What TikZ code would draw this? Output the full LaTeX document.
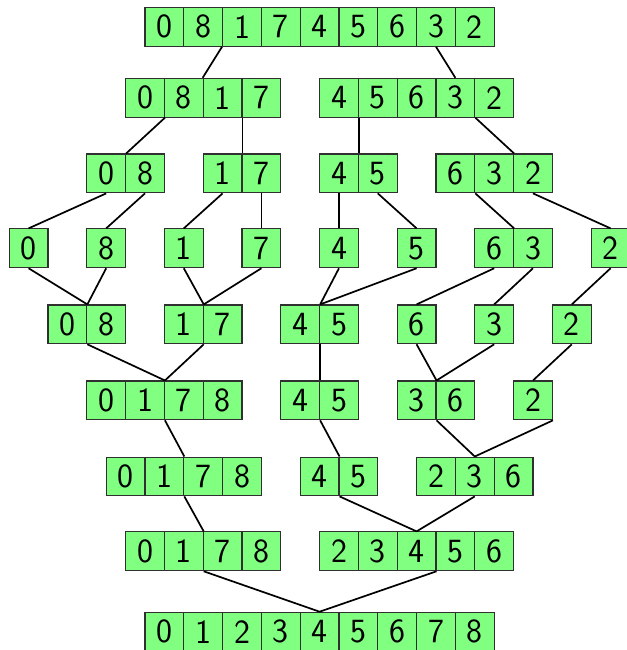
\documentclass[tikz,border=0pt]{standalone}
\usepackage{tikz}
\definecolor{cellfill}{HTML}{80FF80}
\definecolor{celledge}{HTML}{303030}
% one row of cells, first cell centred at (#2,#3)
\newcommand{\cells}[4]{%
  \foreach \v [count=\i] in {#4}
    \node[cell] (#1-\i) at ({#2+\i-1},#3) {\v};
}

\begin{document}
\begin{tikzpicture}[
  cell/.style={draw=celledge, fill=cellfill, line width=0.8pt,
    minimum width=1cm, minimum height=1cm, inner sep=0pt,
    font=\Huge\sffamily},
  link/.style={black, line width=1.25pt}]

\useasboundingbox (-3.737,0) rectangle (12.423,-16.753);

% splitting
\cells{a}{0.5}{-0.69}{0,8,1,7,4,5,6,3,2}
\cells{b1}{0}{-2.52}{0,8,1,7}
\cells{b2}{5}{-2.52}{4,5,6,3,2}
\cells{c1}{-1}{-4.47}{0,8}
\cells{c2}{2}{-4.47}{1,7}
\cells{c3}{5}{-4.47}{4,5}
\cells{c4}{8}{-4.47}{6,3,2}
\cells{d1}{-3}{-6.40}{0}
\cells{d2}{-1}{-6.40}{8}
\cells{d3}{1}{-6.40}{1}
\cells{d4}{3}{-6.40}{7}
\cells{d5}{5}{-6.40}{4}
\cells{d6}{7}{-6.40}{5}
\cells{d7}{9}{-6.40}{6,3}
\cells{d8}{12}{-6.40}{2}

% merging
\cells{e1}{-2}{-8.36}{0,8}
\cells{e2}{1}{-8.36}{1,7}
\cells{e3}{4}{-8.36}{4,5}
\cells{e4}{7}{-8.36}{6}
\cells{e5}{9}{-8.36}{3}
\cells{e6}{11}{-8.36}{2}
\cells{f1}{-1}{-10.32}{0,1,7,8}
\cells{f2}{4}{-10.32}{4,5}
\cells{f3}{7}{-10.32}{3,6}
\cells{f4}{10}{-10.32}{2}
\cells{g1}{-0.5}{-12.28}{0,1,7,8}
\cells{g2}{4.5}{-12.28}{4,5}
\cells{g3}{7.5}{-12.28}{2,3,6}
\cells{h1}{0}{-14.21}{0,1,7,8}
\cells{h2}{5}{-14.21}{2,3,4,5,6}
\cells{i}{0.5}{-16.28}{0,1,2,3,4,5,6,7,8}

\draw[link] (a-3.south west) -- (b1-3.north west);
\draw[link] (a-8.south) -- (b2-4.north);
\draw[link] (b1-1.south east) -- (c1-1.north east);
\draw[link] (b1-3.south east) -- (c2-1.north east);
\draw[link] (b2-1.south east) -- (c3-1.north east);
\draw[link] (b2-4.south east) -- (c4-2.north east);
\draw[link] (c1-1.south) -- (d1-1.north);
\draw[link] (c1-2.south) -- (d2-1.north);
\draw[link] (c2-1.south) -- (d3-1.north);
\draw[link] (c2-2.south) -- (d4-1.north);
\draw[link] (c3-1.south) -- (d5-1.north);
\draw[link] (c3-2.south) -- (d6-1.north);
\draw[link] (c4-1.south east) -- (d7-1.north east);
\draw[link] (c4-3.south) -- (d8-1.north);

\draw[link] (d1-1.south) -- (e1-1.north east) (d2-1.south) -- (e1-1.north east);
\draw[link] (d3-1.south) -- (e2-1.north east) (d4-1.south) -- (e2-1.north east);
\draw[link] (d5-1.south) -- (e3-1.north east) (d6-1.south) -- (e3-1.north east);
\draw[link] (d7-1.south) -- (e4-1.north);
\draw[link] (d7-2.south) -- (e5-1.north);
\draw[link] (d8-1.south) -- (e6-1.north);
\draw[link] (e1-1.south east) -- (f1-2.north east) (e2-1.south east) -- (f1-2.north east);
\draw[link] (e3-1.south east) -- (f2-1.north east);
\draw[link] (e4-1.south) -- (f3-1.north east) (e5-1.south) -- (f3-1.north east);
\draw[link] (e6-1.south) -- (f4-1.north);
\draw[link] (f1-2.south east) -- (g1-2.north east);
\draw[link] (f2-1.south east) -- (g2-1.north east);
\draw[link] (f3-1.south east) -- (g3-2.north) (f4-1.south east) -- (g3-2.north);
\draw[link] (g1-2.south east) -- (h1-2.north east);
\draw[link] (g2-1.south east) -- (h2-3.north) (g3-2.south) -- (h2-3.north);
\draw[link] (h1-2.south east) -- (i-5.north) (h2-3.south east) -- (i-5.north);

\end{tikzpicture}
\end{document}
